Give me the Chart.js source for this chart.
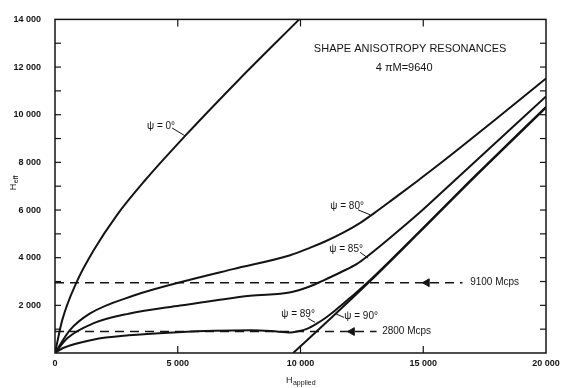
<!DOCTYPE html>
<html>
<head>
<meta charset="utf-8">
<script src="https://cdn.jsdelivr.net/npm/chart.js@4.4.1/dist/chart.umd.min.js"></script>
<style>
html,body{margin:0;padding:0;background:#fff;}
canvas{display:block;}
</style>
</head>
<body>
<canvas id="c" width="566" height="388"></canvas>
<script>
// ---- data ----
const psi0H    = [0, 300, 900, 1550, 2530, 3670, 5300, 7500, 9950];
const psi0Heff = [0, 1400, 3020, 4270, 5800, 7250, 9110, 11480, 14000];

const psi80H    = [0, 600, 1430, 3180, 5220, 7250, 9580, 10400, 11000, 11740, 12400, 13000, 13800, 14750, 15700, 17700, 20000];
const psi80Heff = [0, 950, 1660, 2400, 3000, 3520, 4100, 4420, 4680, 5050, 5440, 5870, 6480, 7210, 7960, 9600, 11520];

const psi85H    = [0, 500, 1550, 3000, 5100, 7950, 9600, 10400, 10900, 11700, 12300, 12700, 13700, 14750, 16200, 20000];
const psi85Heff = [0, 620, 1240, 1650, 1990, 2400, 2550, 2800, 3030, 3420, 3740, 4040, 4880, 5800, 7170, 10770];

const psi89H    = [0, 330, 1550, 3000, 5000, 6500, 8000, 8800, 9600, 9850, 10260, 10660, 11070, 11480, 11890, 12160, 12850, 14800, 16900, 20000];
const psi89Heff = [0, 210, 560, 740, 870, 930, 950, 920, 860, 900, 1010, 1230, 1510, 1845, 2200, 2437, 3075, 5050, 7215, 10330];

const psi90H    = [9700, 11300, 12850, 14800, 16900, 20000];
const psi90Heff = [0, 1520, 3030, 5020, 7190, 10300];

const line9100H    = [0, 15150, 16600];
const line9100Heff = [2950, 2950, 2950];
const line2800H    = [0, 12100, 13100];
const line2800Heff = [900, 900, 900];

const xTickStep = 5000, yTickStep = 1000;

// ---- annotation positions (data coords) ----
const notes = [
  {t:'ψ = 0°',  x:4320,  y:9528, lead:[4768,9445,5297,9113]},
  {t:'ψ = 80°', x:11899, y:6172, lead:[12347,6007,12836,5800]},
  {t:'ψ = 85°', x:11858, y:4350, lead:[12429,4225,12755,3977]},
  {t:'ψ = 89°', x:9902,  y:1616, lead:[10310,1450,10595,1284]},
  {t:'ψ = 90°', x:12469, y:1533, lead:[11777,1491,11410,1657]}
];
const sideNotes = [
  {t:'9100 Mcps', x:16911, y:2950},
  {t:'2800 Mcps', x:13325, y:900}
];

const xy = (xs, ys) => xs.map((v,i)=>({x:v, y:ys[i]}));
const fmt = v => { const s = String(v); return s.length > 3 ? s.slice(0,-3)+' '+s.slice(-3) : s; };
const INK = '#141414';
const FONT = '"Liberation Sans", Arial, sans-serif';

const curve = (xs, ys) => ({data: xy(xs, ys), borderColor: INK, borderWidth: 2, pointRadius: 0,
  cubicInterpolationMode: 'monotone', fill: false});
const dashed = (xs, ys) => ({data: xy(xs, ys), borderColor: INK, borderWidth: 1.4, borderDash: [9, 6],
  pointRadius: [0, 4.5, 0], pointStyle: 'triangle', rotation: 270, pointBackgroundColor: INK,
  pointBorderColor: INK, pointBorderWidth: 1, tension: 0, fill: false});

const decor = {
  id: 'decor',
  afterDraw(chart) {
    const {ctx, chartArea: {left, right, top, bottom}, scales: {x, y}} = chart;
    ctx.save();
    ctx.strokeStyle = INK; ctx.fillStyle = INK;
    ctx.lineWidth = 1.5;
    ctx.strokeRect(left, top, right - left, bottom - top);
    ctx.lineWidth = 1.2;
    const seg = (a,b,c,d) => { ctx.beginPath(); ctx.moveTo(a,b); ctx.lineTo(c,d); ctx.stroke(); };
    for (let v = yTickStep; v < y.max; v += yTickStep) {
      const py = y.getPixelForValue(v);
      seg(left, py, left + 6, py);
      seg(right, py, right - 6, py);
    }
    for (let v = xTickStep; v < x.max; v += xTickStep) {
      const px = x.getPixelForValue(v);
      seg(px, bottom, px, bottom - 7);
      seg(px, top, px, top + 7);
    }
    // curve labels
    ctx.font = '10px ' + FONT;
    ctx.textAlign = 'center'; ctx.textBaseline = 'middle';
    ctx.lineWidth = 1;
    for (const n of notes) {
      ctx.fillText(n.t, x.getPixelForValue(n.x), y.getPixelForValue(n.y));
      seg(x.getPixelForValue(n.lead[0]), y.getPixelForValue(n.lead[1]),
          x.getPixelForValue(n.lead[2]), y.getPixelForValue(n.lead[3]));
    }
    ctx.textAlign = 'left';
    for (const n of sideNotes) {
      ctx.fillText(n.t, x.getPixelForValue(n.x), y.getPixelForValue(n.y));
    }
    // title
    ctx.textAlign = 'center';
    ctx.font = '11px ' + FONT;
    ctx.fillText('SHAPE ANISOTROPY RESONANCES', x.getPixelForValue(14466), y.getPixelForValue(12759));
    ctx.fillText('4 πM=9640', x.getPixelForValue(14222), y.getPixelForValue(11972));
    // axis titles with subscripts
    const cx = (left + right) / 2;
    ctx.textAlign = 'left'; ctx.textBaseline = 'alphabetic';
    ctx.font = '9px ' + FONT;
    const hW = ctx.measureText('H').width;
    ctx.font = '7px ' + FONT;
    const aW = ctx.measureText('applied').width;
    const startX = cx - (hW + aW) / 2;
    ctx.font = '9px ' + FONT;
    ctx.fillText('H', startX, 383);
    ctx.font = '7px ' + FONT;
    ctx.fillText('applied', startX + hW + 0.5, 385);
    ctx.save();
    ctx.translate(16, (top + bottom) / 2 + 4);
    ctx.rotate(-Math.PI / 2);
    ctx.font = '9px ' + FONT;
    ctx.fillText('H', 0, 0);
    ctx.font = '7px ' + FONT;
    ctx.fillText('eff', hW + 0.5, 2);
    ctx.restore();
    ctx.restore();
  }
};

new Chart(document.getElementById('c'), {
  type: 'line',
  data: {
    datasets: [
      curve(psi0H, psi0Heff),
      curve(psi80H, psi80Heff),
      curve(psi85H, psi85Heff),
      curve(psi89H, psi89Heff),
      curve(psi90H, psi90Heff),
      dashed(line9100H, line9100Heff),
      dashed(line2800H, line2800Heff)
    ]
  },
  options: {
    responsive: false,
    animation: false,
    layout: {padding: {left: 0, right: 20, top: 15, bottom: 0}},
    plugins: {legend: {display: false}, tooltip: {enabled: false}},
    scales: {
      x: {
        type: 'linear', min: 0, max: 20000,
        grid: {display: false, drawTicks: false}, border: {display: false},
        ticks: {stepSize: xTickStep, maxRotation: 0, padding: 5, color: INK,
          font: {family: FONT, size: 9, weight: 'bold'},
          callback: v => fmt(v)},
        afterFit: s => { s.height = 35; }
      },
      y: {
        type: 'linear', min: 0, max: 14000,
        grid: {display: false, drawTicks: false}, border: {display: false},
        ticks: {stepSize: yTickStep, autoSkip: false, padding: 14, color: INK,
          font: {family: FONT, size: 9, weight: 'bold'},
          callback: v => (v % 2000 === 0 && v !== 0) ? fmt(v) : ''},
        afterFit: s => { s.width = 55; }
      }
    }
  },
  plugins: [decor]
});
</script>
</body>
</html>
